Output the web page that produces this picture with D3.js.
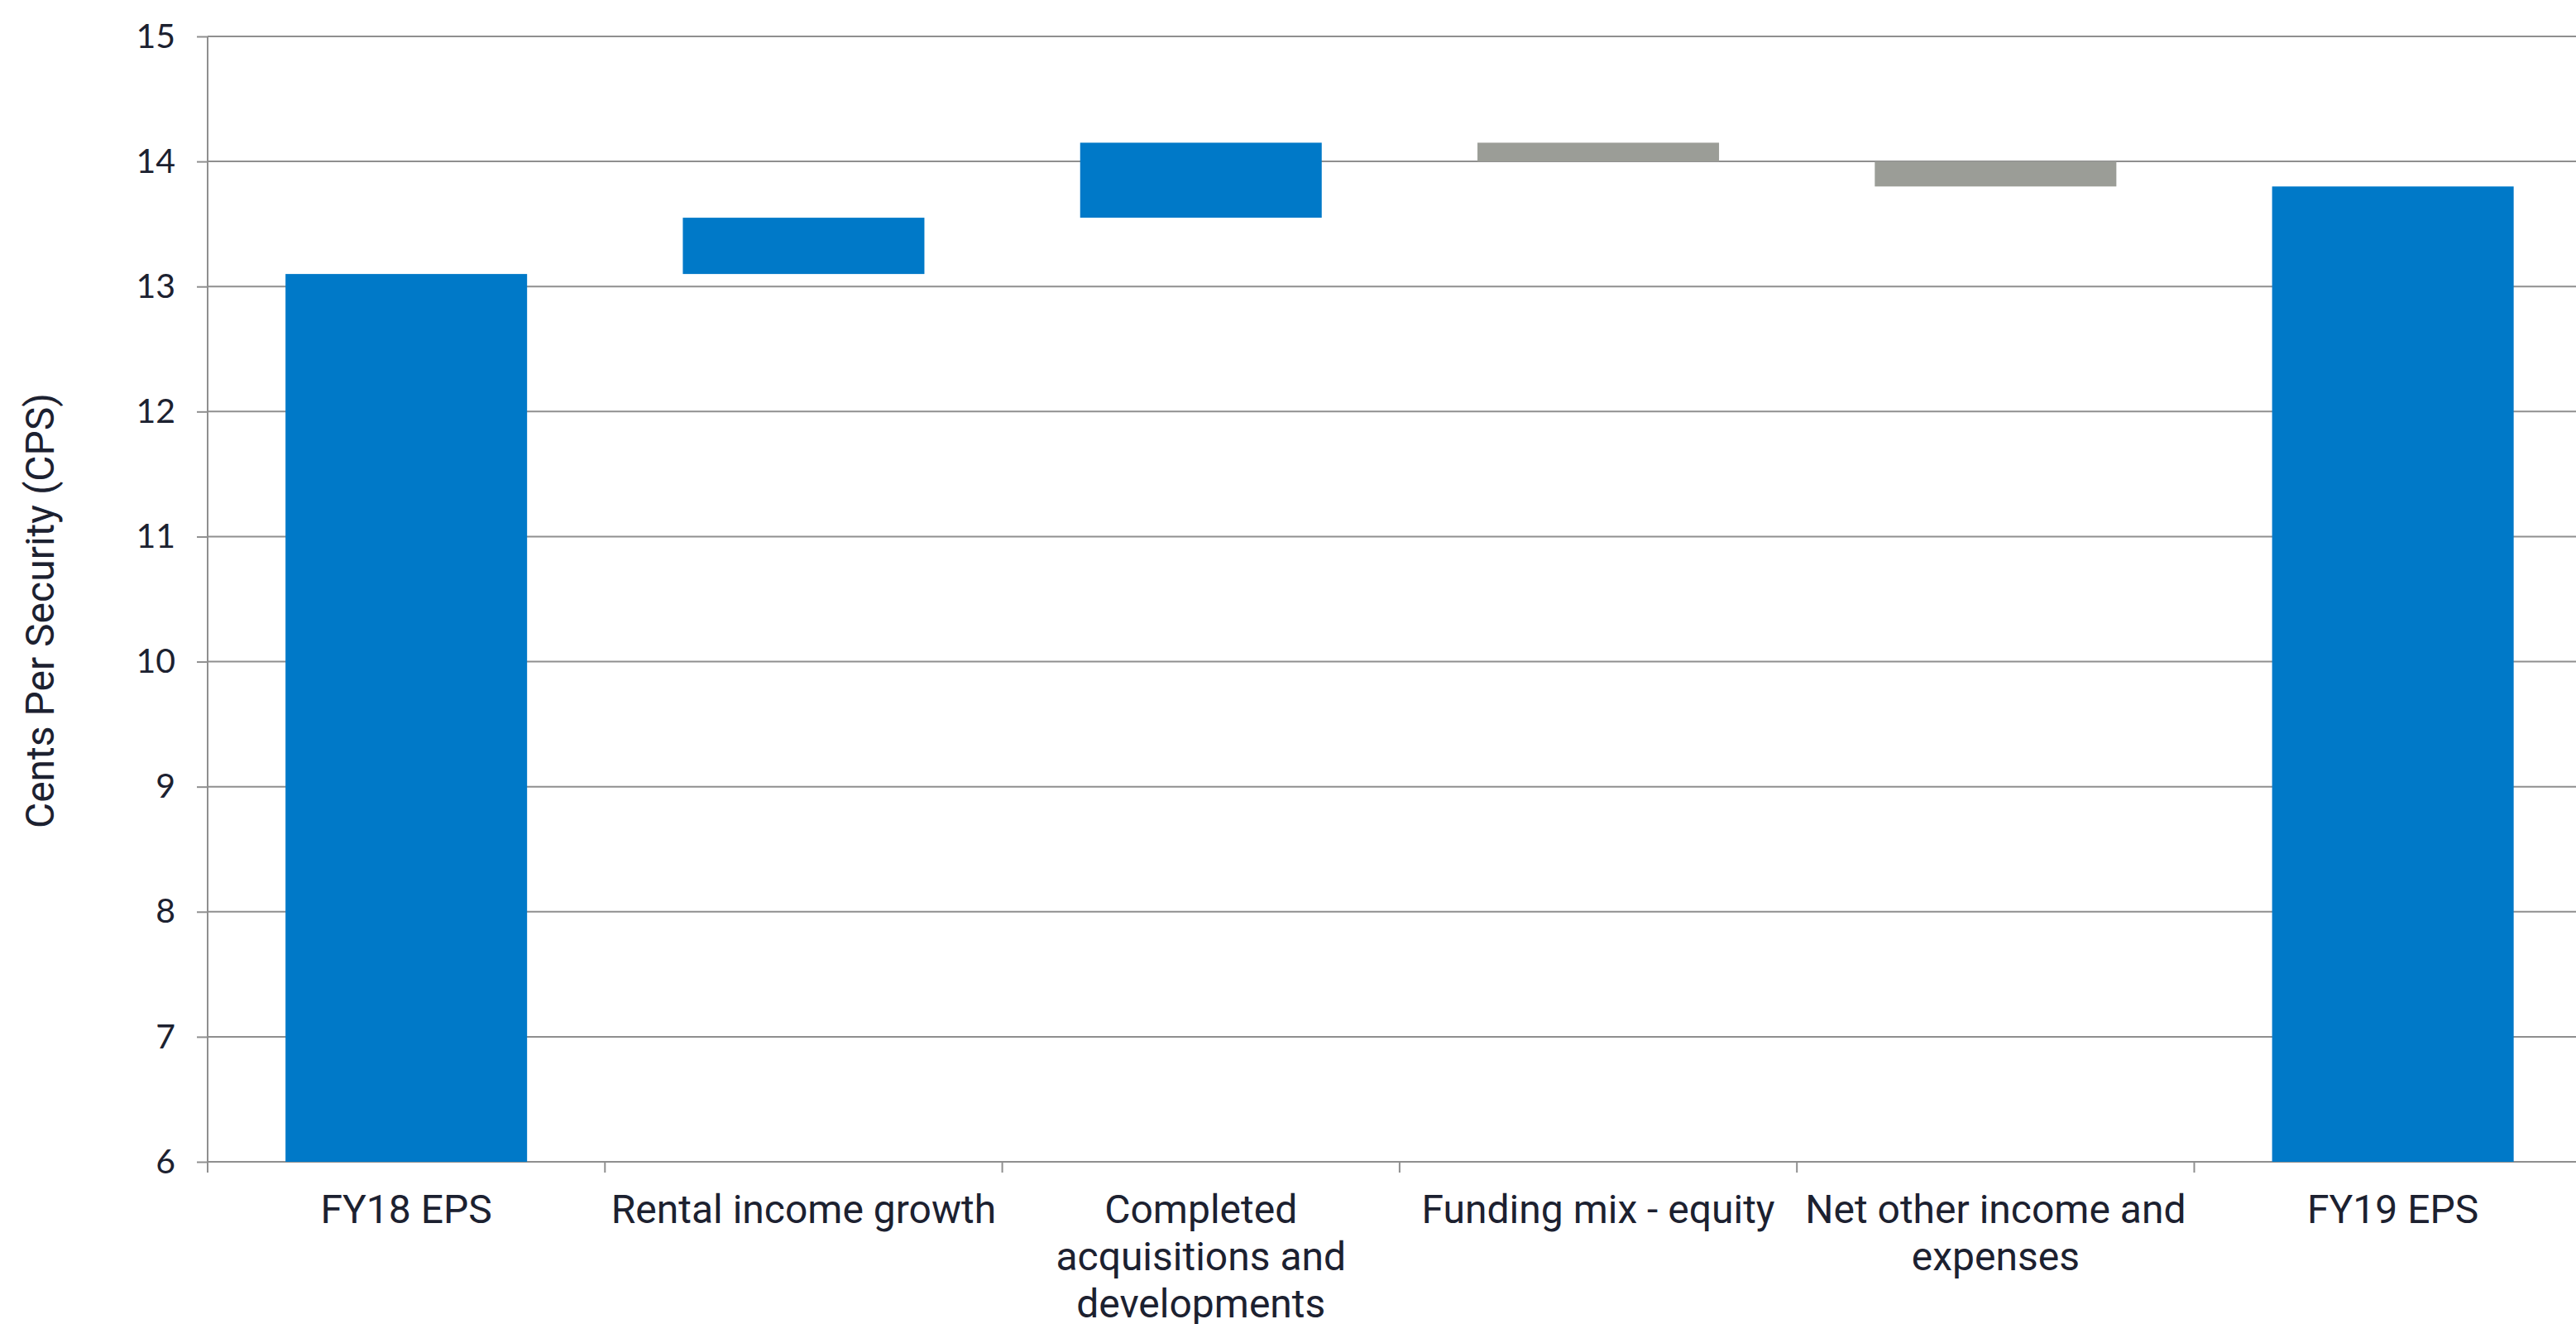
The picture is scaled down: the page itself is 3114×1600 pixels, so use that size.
<!DOCTYPE html>
<html>
<head>
<meta charset="utf-8">
<script src="https://cdn.jsdelivr.net/npm/d3@7"></script>
<style>
  html, body { margin: 0; padding: 0; background: #ffffff; }
  svg { display: block; }
  text { font-family: Roboto, "Open Sans", sans-serif; fill: #1c2130; }
</style>
</head>
<body>
<svg id="chart" width="3114" height="1600"></svg>
<script>
// EPS bridge, FY18 -> FY19 (cents per security)
const categories = [
  "FY18 EPS",
  "Rental income growth",
  "Completed acquisitions and developments",
  "Funding mix - equity",
  "Net other income and expenses",
  "FY19 EPS"
];
// totals are absolute levels, deltas are movements from the running level
const values = [13.1, 0.45, 0.6, -0.15, -0.2, 13.8];
const kinds = ["total", "delta", "delta", "delta", "delta", "total"];
const yTicks = [6, 7, 8, 9, 10, 11, 12, 13, 14, 15];
const yTitle = "Cents Per Security (CPS)";

const colorUp = "#0079c8";
const colorDown = "#9b9d97";
const gridColor = "#8f8f8f";

const W = 3114, H = 1600;
const plotLeft = 251, plotTop = 44, plotBottom = 1404;
const step = 480.3;

const svg = d3.select("#chart");

const y = d3.scaleLinear().domain([6, 15]).range([plotBottom, plotTop]);
const x = d3.scaleBand()
  .domain(categories)
  .range([plotLeft, plotLeft + step * categories.length])
  .paddingInner(0.392)
  .paddingOuter(0.196);

// running waterfall extents
let level = 0;
const bars = categories.map((c, i) => {
  let lo, hi, color;
  if (kinds[i] === "total") {
    level = values[i];
    lo = 6; hi = values[i]; color = colorUp;
  } else {
    const next = level + values[i];
    lo = Math.min(level, next); hi = Math.max(level, next);
    color = values[i] >= 0 ? colorUp : colorDown;
    level = next;
  }
  return { c, lo, hi, color };
});

// horizontal gridlines
svg.append("g").selectAll("line")
  .data(yTicks)
  .join("line")
  .attr("x1", plotLeft).attr("x2", W)
  .attr("y1", d => y(d)).attr("y2", d => y(d))
  .attr("stroke", gridColor).attr("stroke-width", 2);

// y axis ticks and labels
const yAxis = svg.append("g")
  .attr("transform", `translate(${plotLeft},0)`)
  .call(d3.axisLeft(y).tickValues(yTicks).tickSize(13).tickPadding(26).tickFormat(d3.format("d")));
yAxis.select(".domain").remove();
yAxis.selectAll(".tick line").attr("stroke", gridColor).attr("stroke-width", 2);
yAxis.selectAll(".tick text")
  .attr("fill", "#1c2130")
  .style("font-family", "Lato, Roboto, sans-serif")
  .style("font-weight", 400)
  .style("font-size", "41px");

// bars
svg.append("g").selectAll("rect")
  .data(bars)
  .join("rect")
  .attr("x", d => x(d.c))
  .attr("width", x.bandwidth())
  .attr("y", d => y(d.hi))
  .attr("height", d => y(d.lo) - y(d.hi))
  .attr("fill", d => d.color);

// vertical axis line
svg.append("line")
  .attr("x1", plotLeft).attr("x2", plotLeft)
  .attr("y1", y(15)).attr("y2", plotBottom + 13)
  .attr("stroke", gridColor).attr("stroke-width", 2);

// category separators below the baseline
svg.append("g").selectAll("line")
  .data(categories.slice(1))
  .join("line")
  .attr("x1", d => x(d) - x.step() * x.paddingOuter())
  .attr("x2", d => x(d) - x.step() * x.paddingOuter())
  .attr("y1", plotBottom).attr("y2", plotBottom + 13)
  .attr("stroke", gridColor).attr("stroke-width", 2);

// category labels, wrapped to the slot width
const labelSize = 48, lineGap = 57, maxWidth = 470;
const labels = svg.append("g").selectAll("text")
  .data(categories)
  .join("text")
  .attr("text-anchor", "middle")
  .attr("x", d => x(d) + x.bandwidth() / 2)
  .attr("y", 1478)
  .style("font-size", labelSize + "px")
  .style("font-weight", 400);

labels.each(function (d) {
  const t = d3.select(this);
  const words = d.split(" ");
  let line = [];
  let tspan = t.append("tspan").attr("x", t.attr("x")).attr("dy", 0);
  words.forEach(w => {
    line.push(w);
    tspan.text(line.join(" "));
    if (tspan.node().getComputedTextLength() > maxWidth && line.length > 1) {
      line.pop();
      tspan.text(line.join(" "));
      line = [w];
      tspan = t.append("tspan").attr("x", t.attr("x")).attr("dy", lineGap).text(w);
    }
  });
});

// y axis title
svg.append("text")
  .attr("transform", `translate(65,738) rotate(-90)`)
  .attr("text-anchor", "middle")
  .style("font-size", "48px")
  .style("font-weight", 400)
  .text(yTitle);
</script>
</body>
</html>
